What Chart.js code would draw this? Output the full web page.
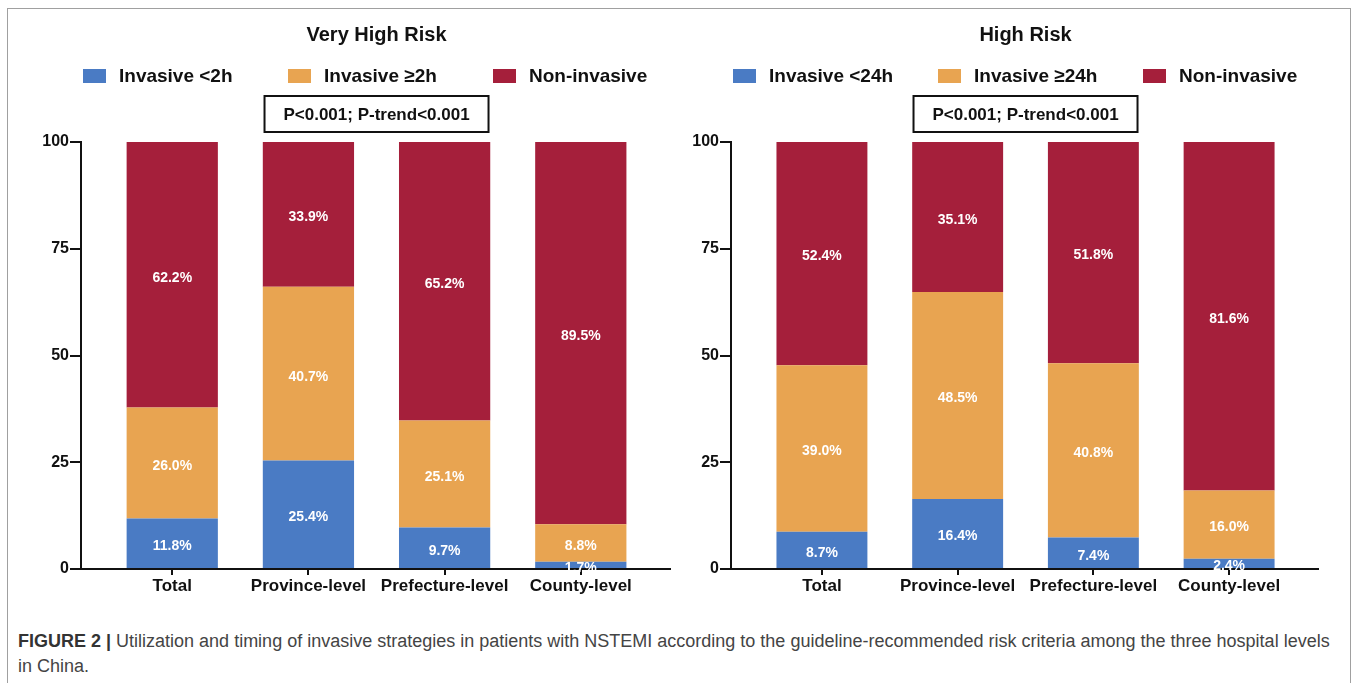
<!DOCTYPE html>
<html>
<head>
<meta charset="utf-8">
<script src="https://cdn.jsdelivr.net/npm/chart.js@4"></script>
<style>
  html, body { margin: 0; padding: 0; background: #fff; }
  body { width: 1358px; height: 683px; position: relative; overflow: hidden; font-family: "Liberation Sans", Arial, sans-serif; }
  .frame { position: absolute; left: 7px; top: 8px; width: 1342px; height: 700px; border: 1px solid #a0a0a0; border-bottom: none; }
  .box { position: absolute; top: 10px; height: 600px; }
  #leftBox { left: 10px; width: 670px; }
  #rightBox { left: 680px; width: 658px; }
  .caption { position: absolute; left: 18px; top: 629px; font-size: 18px; line-height: 25px; color: #444; white-space: nowrap; }
  .caption b { color: #333; }
</style>
</head>
<body>
<div class="frame"></div>
<div class="box" id="leftBox"><canvas id="veryHighChart"></canvas></div>
<div class="box" id="rightBox"><canvas id="highChart"></canvas></div>
<div class="caption">
  <b>FIGURE 2 |</b> Utilization and timing of invasive strategies in patients with NSTEMI according to the guideline-recommended risk criteria among the three hospital levels<br>
  in China.
</div>

<script>
// 資料：醫院層級與各組百分比
const categories = ['Total', 'Province-level', 'Prefecture-level', 'County-level'];
const yTicks = [0, 25, 50, 75, 100];

// Very High Risk
const vhrLabels = ['Invasive <2h', 'Invasive ≥2h', 'Non-invasive'];
const vhrEarly = [11.8, 25.4, 9.7, 1.7];
const vhrLate = [26.0, 40.7, 25.1, 8.8];
const vhrNone = [62.2, 33.9, 65.2, 89.5];

// High Risk
const hrLabels = ['Invasive <24h', 'Invasive ≥24h', 'Non-invasive'];
const hrEarly = [8.7, 16.4, 7.4, 2.4];
const hrLate = [39.0, 48.5, 40.8, 16.0];
const hrNone = [52.4, 35.1, 51.8, 81.6];

const colors = ['#4a7bc4', '#e8a451', '#a51f3b'];
const FONT = '"Liberation Sans", Arial, sans-serif';
const INK = '#111';

// 每段中間寫上百分比
const barLabelPlugin = {
    id: 'barLabels',
    afterDatasetsDraw(chart) {
        const ctx = chart.ctx;
        ctx.save();
        ctx.font = 'bold 14px ' + FONT;
        ctx.fillStyle = '#fff';
        ctx.textAlign = 'center';
        ctx.textBaseline = 'middle';
        chart.data.datasets.forEach((ds, i) => {
            chart.getDatasetMeta(i).data.forEach((bar, j) => {
                const p = bar.getProps(['x', 'y', 'base'], true);
                ctx.fillText(ds.data[j].y.toFixed(1) + '%', p.x, (p.y + p.base) / 2 + 3);
            });
        });
        ctx.restore();
    }
};

// 標題、圖例與 P 值框
const headerPlugin = {
    id: 'header',
    afterDraw(chart, args, opts) {
        const { ctx, chartArea } = chart;
        const xs = chart.scales.x;
        const mid = (xs.getPixelForValue(0) + xs.getPixelForValue(categories.length - 1)) / 2;
        const top = chartArea.top;
        ctx.save();
        ctx.textBaseline = 'middle';
        ctx.fillStyle = INK;

        ctx.font = 'bold 20px ' + FONT;
        ctx.textAlign = 'center';
        ctx.fillText(opts.title, mid, top - 107);

        ctx.font = 'bold 19px ' + FONT;
        ctx.textAlign = 'left';
        chart.data.datasets.forEach((ds, i) => {
            const lx = chartArea.left + 2 + i * 205;
            const ly = top - 65;
            ctx.fillStyle = ds.backgroundColor;
            ctx.fillRect(lx, ly - 8, 23, 14);
            ctx.fillStyle = INK;
            ctx.fillText(ds.label, lx + 36, ly);
        });

        const w = 224, h = 36;
        ctx.lineWidth = 2;
        ctx.strokeStyle = INK;
        ctx.strokeRect(mid - w / 2, top - 46, w, h);
        ctx.font = 'bold 17px ' + FONT;
        ctx.textAlign = 'center';
        ctx.fillText(opts.pText, mid, top - 27);
        ctx.restore();
    }
};

function makeChart(id, title, labels, series, yWidth, padRight) {
    const datasets = series.map((vals, i) => ({
        label: labels[i],
        data: vals.map((v, j) => ({ x: j, y: v })),
        backgroundColor: colors[i],
        borderWidth: 0,
        barPercentage: 0.67,
        categoryPercentage: 1
    }));

    return new Chart(document.getElementById(id), {
        type: 'bar',
        data: { datasets },
        plugins: [barLabelPlugin, headerPlugin],
        options: {
            responsive: true,
            maintainAspectRatio: false,
            animation: false,
            layout: { padding: { top: 132, right: padRight, bottom: 0, left: 0 } },
            plugins: {
                legend: { display: false },
                title: { display: false },
                tooltip: { enabled: false },
                header: { title: title, pText: 'P<0.001; P-trend<0.001' }
            },
            scales: {
                x: {
                    type: 'linear',
                    stacked: true,
                    min: -0.67,
                    max: 3.655,
                    offset: false,
                    afterBuildTicks: s => { s.ticks = categories.map((c, i) => ({ value: i })); },
                    afterFit: s => { s.height = 41; },
                    border: { color: INK, width: 2 },
                    grid: { drawOnChartArea: false, offset: false, color: INK, lineWidth: 2, tickLength: 6 },
                    ticks: {
                        color: INK,
                        padding: 1,
                        autoSkip: false,
                        maxRotation: 0,
                        font: { family: FONT, size: 17, weight: 'bold' },
                        callback: v => categories[v]
                    }
                },
                y: {
                    stacked: true,
                    min: 0,
                    max: 100,
                    afterBuildTicks: s => { s.ticks = yTicks.map(v => ({ value: v })); },
                    afterFit: s => { s.width = yWidth; },
                    border: { color: INK, width: 2 },
                    grid: { drawOnChartArea: false, color: INK, lineWidth: 2, tickLength: 11 },
                    ticks: {
                        color: INK,
                        padding: 1,
                        font: { family: FONT, size: 16, weight: 'bold' }
                    }
                }
            }
        }
    });
}

makeChart('veryHighChart', 'Very High Risk', vhrLabels, [vhrEarly, vhrLate, vhrNone], 71, 10);
makeChart('highChart', 'High Risk', hrLabels, [hrEarly, hrLate, hrNone], 51, 20);
</script>
</body>
</html>
